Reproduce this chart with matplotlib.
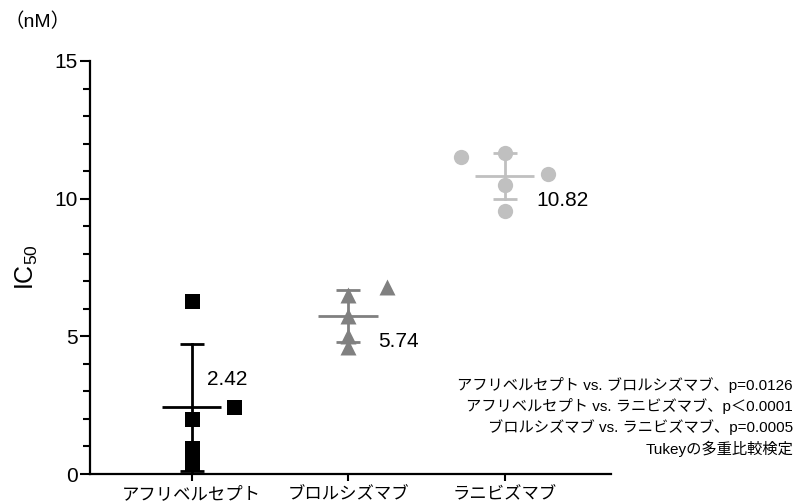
import numpy as np
import matplotlib
matplotlib.use("Agg")
import matplotlib.pyplot as plt
from matplotlib.ticker import MultipleLocator

plt.rcParams['font.family'] = ['Liberation Sans', 'Noto Sans CJK JP', 'DejaVu Sans']
plt.rcParams['mathtext.fontset'] = 'custom'
plt.rcParams['mathtext.rm'] = 'Liberation Sans'

categories = ['アフリベルセプト', 'ブロルシズマブ', 'ラニビズマブ']
aflibercept = [6.3, 2.45, 2.0, 0.95, 0.4]
brolucizumab = [6.8, 6.5, 5.75, 5.0, 4.6]
ranibizumab = [11.5, 11.65, 10.9, 10.5, 9.55]
mean_labels = ['2.42', '5.74', '10.82']
stats_lines = [
    'アフリベルセプト vs. ブロルシズマブ、p=0.0126',
    'アフリベルセプト vs. ラニビズマブ、p＜0.0001',
    'ブロルシズマブ vs. ラニビズマブ、p=0.0005',
    'Tukeyの多重比較検定',
]

# horizontal scatter offsets (beeswarm layout)
offsets = [
    [0, 0.27, 0, 0, 0],
    [0.25, 0, 0, 0, 0],
    [-0.28, 0, 0.28, 0, 0],
]
groups = [aflibercept, brolucizumab, ranibizumab]
colors = ['#000000', '#808080', '#c0c0c0']
markers = ['s', '^', 'o']
msizes = [10.8, 11.5, 11]
label_pos = [(0.10, 1.0), (0.19, -0.9), (0.20, -0.9)]

fig = plt.figure(figsize=(7.95, 5.04), dpi=100)
ax = fig.add_axes([90/795, 1-474/504, (611-90)/795, (474-61)/504])

for i, (vals, col, mk) in enumerate(zip(groups, colors, markers)):
    vals = np.array(vals)
    m = vals.mean()
    sd = vals.std(ddof=1)
    # mean line
    ax.plot([i-0.19, i+0.19], [m, m], color=col, lw=2, zorder=2, solid_capstyle='butt')
    # error bar
    ax.plot([i, i], [m-sd, m+sd], color=col, lw=2, zorder=2)
    for y in (m-sd, m+sd):
        ax.plot([i-0.077, i+0.077], [y, y], color=col, lw=2, zorder=2, solid_capstyle='butt')
    ax.scatter(np.array(offsets[i]) + i, vals, marker=mk, s=msizes[i]**2,
               color=col, zorder=3, linewidths=0, clip_on=False)
    dx, dy = label_pos[i]
    ax.text(i+dx, m+dy, mean_labels[i], fontsize=15, va='center', ha='left', color='black')

ax.set_xlim(-0.65, 2.68)
ax.set_ylim(0, 15)
ax.set_xticks(range(3))
ax.set_xticklabels(categories, fontsize=12.5)
ax.yaxis.set_major_locator(MultipleLocator(5))
ax.yaxis.set_minor_locator(MultipleLocator(1))
ax.tick_params(axis='y', which='major', length=7, width=1.5, labelsize=15, pad=2)
ax.tick_params(axis='y', which='minor', length=5, width=1.5)
ax.tick_params(axis='x', which='major', length=5, width=1.5, pad=4)
for s in ['top', 'right']:
    ax.spines[s].set_visible(False)
for s in ['left', 'bottom']:
    ax.spines[s].set_linewidth(1.6)

ax.set_ylabel('IC$_{\\mathregular{50}}$', fontsize=18, labelpad=10)
fig.text(4/795, 1-22/504, '（nM）', fontsize=14, va='center', ha='left')

for k, line in enumerate(stats_lines):
    fig.text(793/795, 1-(385+21.3*k)/504, line, fontsize=11, ha='right', va='center')

fig.savefig('out.png', dpi=100)
